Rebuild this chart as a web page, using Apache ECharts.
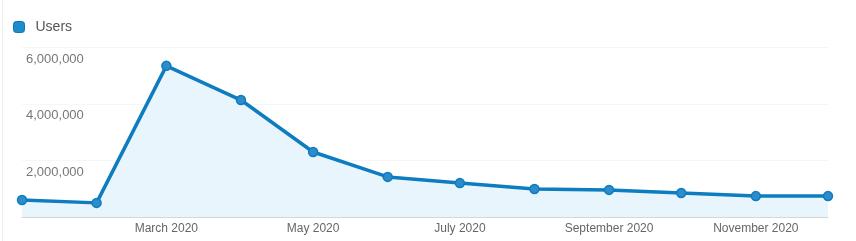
<!DOCTYPE html>
<html>
<head>
<meta charset="utf-8">
<script src="https://cdn.jsdelivr.net/npm/echarts@6/dist/echarts.min.js"></script>
<style>
  html, body { margin: 0; padding: 0; background: #fff; }
  #chart { width: 856px; height: 241px; }
</style>
</head>
<body>
<div id="chart"></div>
<script>
const months = ['2020-01-01', '2020-02-01', '2020-03-01', '2020-04-01', '2020-05-01', '2020-06-01',
                '2020-07-01', '2020-08-01', '2020-09-01', '2020-10-01', '2020-11-01', '2020-12-01'];
const users = [600000, 500000, 5350000, 4140000, 2300000, 1420000,
               1200000, 990000, 960000, 850000, 740000, 740000];
const tickDates = ['2020-03-01', '2020-05-01', '2020-07-01', '2020-09-01', '2020-11-01'];
const tickNames = ['March 2020', 'May 2020', 'July 2020', 'September 2020', 'November 2020'];
const yTicks = [2000000, 4000000, 6000000];

// dates as timestamps so months of different length get their real spacing
const toTime = s => Date.parse(s + 'T00:00:00Z');
const tickTimes = tickDates.map(toTime);

const chart = echarts.init(document.getElementById('chart'));

const option = {
  animation: false,
  textStyle: { fontFamily: 'Arial, "Liberation Sans", sans-serif' },
  legend: {
    left: 13,
    top: 20,
    padding: 0,
    itemWidth: 11,
    itemHeight: 11,
    icon: 'roundRect',
    itemStyle: { color: '#1c8ccb', borderColor: '#0b78b8', borderWidth: 1 },
    textStyle: { fontSize: 14, color: '#555', padding: [0, 0, 0, 6] },
    data: ['Users']
  },
  grid: { left: 22, right: 28, top: 47.5, bottom: 24 },
  xAxis: {
    type: 'value',
    min: toTime(months[0]),
    max: toTime(months[months.length - 1]),
    axisLine: { show: true, onZero: false, lineStyle: { color: '#d4d8db', width: 1 } },
    axisTick: { show: false },
    splitLine: { show: false },
    axisLabel: {
      customValues: tickTimes,
      color: '#666',
      fontSize: 12,
      margin: 6,
      formatter: v => {
        const i = tickTimes.indexOf(v);
        return i >= 0 ? tickNames[i] : '';
      }
    }
  },
  yAxis: {
    type: 'value',
    min: 0,
    max: 6000000,
    interval: 2000000,
    axisLine: { show: false },
    axisTick: { show: false },
    splitLine: { lineStyle: { color: '#f4f6f8', width: 1 } },
    axisLabel: {
      inside: true,
      margin: 4,
      color: '#777',
      fontSize: 13,
      verticalAlign: 'top',
      padding: [5, 0, 0, 0],
      formatter: v => yTicks.indexOf(v) >= 0 ? v.toLocaleString('en-US') : ''
    }
  },
  series: [{
    name: 'Users',
    type: 'line',
    data: months.map((m, i) => [toTime(m), users[i]]),
    symbol: 'circle',
    symbolSize: 9,
    lineStyle: { color: '#0d7dc0', width: 3.5 },
    itemStyle: { color: '#2f8ccb', borderColor: '#0d7dc0', borderWidth: 1.5 },
    areaStyle: { color: '#e9f5fd', opacity: 1 },
    z: 3
  }],
  graphic: [{
    type: 'line',
    shape: { x1: 2.5, y1: 0, x2: 2.5, y2: 241 },
    style: { stroke: '#eceeef', lineWidth: 1 }
  }]
};

chart.setOption(option);
</script>
</body>
</html>
